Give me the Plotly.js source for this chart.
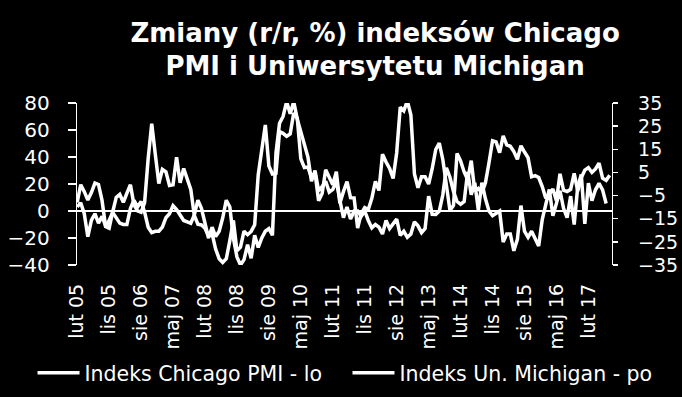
<!DOCTYPE html>
<html><head><meta charset="utf-8">
<script src="https://cdn.plot.ly/plotly-3.0.1.min.js"></script>
<style>html,body{margin:0;padding:0;background:#000;}#chart{width:682px;height:397px;}</style>
</head><body><div id="chart"></div>
<script>
const monthNames = ['sty','lut','mar','kwi','maj','cze','lip','sie','wrz','paź','lis','gru'];
const startYear = 2005;
const startMonth = 1; // lut
const nCategories = 151;
const tickLabels = ['lut 05','lis 05','sie 06','maj 07','lut 08','lis 08','sie 09','maj 10','lut 11','lis 11','sie 12','maj 13','lut 14','lis 14','sie 15','maj 16','lut 17'];

// Indeks Chicago PMI - r/r, % (left axis)
const chicagoPMI = [
  3, 6, -2, -19, -7, -2, -9, -4, -11, -7, -1, -5,
  -9, -10, -10, 2, 8, 3, 7, -1, -12, -16, -15, -15,
  -12, -5, -2, 4, 1, -3, -7, -8, -9, -3, 8, 2,
  -10, -20, -12, -19, -15, -5, 8, 3, -20, -34, -40, -36,
  -25, -35, -18, -27, -20, -15, -13, -18, 43, 65, 70, 81,
  72, 81, 68, 58, 50, 40, 22, 30, 15, 18, 22, 14,
  16, 22, 8, -5, 3, -6, 0, 0, -4, 0, -7, -12.5,
  -10, -12, -17, -7, -13, -9, -6, -18, -15, -19.5, -17, -8,
  -11, -16, -13, 11, -2.5, -2.6, 0, 12, 32, 25, 14.5, 7,
  5, 7, 29, 12, 21, 0.6, 21, 9, 0, -3.5, -1.4, 0,
  -23, -17, -17, -29.5, -21, 4, -15, -19.5, -15, -20, -26, -6.4,
  4, 16, -3.6, 6.7, 15, 2, -5, 11, -10, 18, 27, -9.5,
  20.6, 7.6, 15.7, 20.5, 15.7, 5.6
];

// Indeks Un. Michigan - r/r, % (right axis)
const michigan = [
  -8.0, -0.3, -3.3, -6.9, -3.7, 0.4, -0.2, -7.1, -18.4, -19.1, -12.1, -5.8,
  -4.5, -7.9, -4.0, -0.3, -9.0, -11.6, -12.2, -8.0, 11.1, 26.1, 12.9, 0.2,
  6.3, 5.3, -0.6, -0.3, 11.6, 0.5, 6.7, 1.7, -2.3, -13.6, -17.4, -17.7,
  -19.1, -22.5, -21.4, -28.1, -32.3, -33.9, -32.3, -24.5, -15.7, -28.8, -27.3, -20.4,
  -21.9, -20.5, -17.6, 4.0, 14.9, 25.5, 7.8, 4.3, 4.6, 22.6, 21.9, 20.6,
  21.6, 30.7, 28.4, 10.9, 7.1, 7.3, 2.7, 4.9, -7.2, -4.1, 6.2, 2.8,
  -0.3, 5.3, -8.3, -3.3, 1.0, -5.9, -6.0, -19.0, -12.8, -10.2, -11.0, -6.2,
  1.1, -2.8, 12.9, 9.5, 6.7, 2.4, 13.5, 33.2, 31.6, 35.9, 29.8, 4.3,
  -1.6, 3.1, 3.1, 0.0, 6.6, 14.9, 17.7, 10.5, -1.0, -11.4, -9.2, 13.2,
  10.0, 5.2, 1.8, 10.1, -3.1, -1.9, -3.9, 0.5, 9.2, 18.7, 18.2, 13.5,
  20.8, 16.9, 16.3, 14.0, 10.7, 16.5, 13.8, 11.4, 3.1, 3.6, 2.8, -1.1,
  -6.2, -3.9, -2.2, -7.2, 4.4, -2.7, -3.3, -2.3, 4.6, -3.1, 2.7, 6.0,
  7.1, 5.0, 6.5, 9.0, 2.5, 1.6, 3.8
];

const categories = [];
for (let i = 0; i < nCategories; i++) {
  const m = (startMonth + i) % 12;
  const y = startYear + Math.floor((startMonth + i) / 12);
  categories.push(monthNames[m] + ' ' + String(y % 100).padStart(2, '0'));
}

const fontFam = 'DejaVu Sans, sans-serif';
const traces = [
  {
    x: categories.slice(0, chicagoPMI.length), y: chicagoPMI, type: 'scatter', mode: 'lines',
    name: 'Indeks Chicago PMI - lo', line: {color: '#ffffff', width: 3.5}, yaxis: 'y', legend: 'legend'
  },
  {
    x: categories.slice(0, michigan.length), y: michigan, type: 'scatter', mode: 'lines',
    name: 'Indeks Un. Michigan - po', line: {color: '#ffffff', width: 3.5}, yaxis: 'y2', legend: 'legend2'
  }
];

const legendBase = {
  orientation: 'h', xanchor: 'left', xref: 'container', yref: 'container',
  y: 0.0605, yanchor: 'middle',
  font: {family: fontFam, size: 20.5, color: '#ffffff'},
  bgcolor: 'rgba(0,0,0,0)', itemwidth: 42
};

const layout = {
  width: 682, height: 397,
  paper_bgcolor: '#000000', plot_bgcolor: '#000000',
  margin: {l: 77, r: 70, t: 103, b: 132, pad: 0},
  font: {family: fontFam, color: '#ffffff', size: 20},
  title: {
    text: 'Zmiany (r/r, %) indeksów Chicago<br>PMI i Uniwersytetu Michigan',
    font: {family: 'DejaVu Sans, sans-serif', size: 26, color: '#ffffff', weight: 'bold'},
    x: 0.55, xanchor: 'center', xref: 'container',
    y: 0.895, yanchor: 'top', yref: 'container'
  },
  showlegend: true,
  legend: Object.assign({}, legendBase, {x: 0.0477}),
  legend2: Object.assign({}, legendBase, {x: 0.5095}),
  xaxis: {
    type: 'category', range: [-0.05, 150.65], autorange: false, automargin: false,
    tickmode: 'array', tickvals: tickLabels, ticktext: tickLabels,
    tickangle: -90, ticks: '', showline: false, showgrid: false, zeroline: false,
    tickfont: {family: fontFam, size: 19, color: '#ffffff'}, ticklabelstandoff: 14
  },
  yaxis: {
    range: [-40, 80], autorange: false, automargin: false,
    tickmode: 'array', tickvals: [-40, -20, 0, 20, 40, 60, 80],
    showgrid: false, zeroline: true, zerolinecolor: '#ffffff', zerolinewidth: 1.3,
    showline: true, linecolor: '#ffffff', linewidth: 1.3,
    ticks: 'outside', ticklen: 8, tickcolor: '#ffffff', tickwidth: 1.3,
    tickfont: {family: fontFam, size: 20, color: '#ffffff'}, ticklabelstandoff: 14
  },
  yaxis2: {
    overlaying: 'y', side: 'right', range: [-35, 35], autorange: false, automargin: false,
    tickmode: 'array', tickvals: [-35, -25, -15, -5, 5, 15, 25, 35],
    showgrid: false, zeroline: false,
    showline: true, linecolor: '#ffffff', linewidth: 1.3,
    ticks: 'outside', ticklen: 5, tickcolor: '#ffffff', tickwidth: 1.3,
    tickfont: {family: fontFam, size: 19, color: '#ffffff'}, ticklabelstandoff: 16
  }
};

Plotly.newPlot('chart', traces, layout, {displayModeBar: false, staticPlot: true});
</script>
</body></html>
